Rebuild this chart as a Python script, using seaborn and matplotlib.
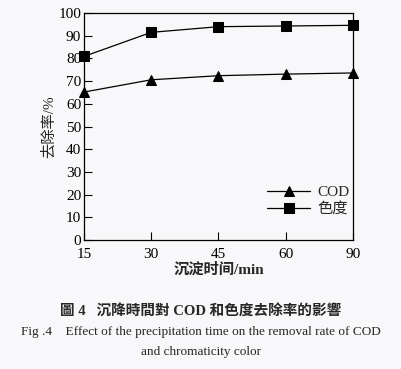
import matplotlib
matplotlib.use("Agg")
import matplotlib.pyplot as plt
import seaborn as sns
import pandas as pd

times = ["15", "30", "45", "60", "90"]
cod = [65.2, 70.6, 72.4, 73.1, 73.6]
chroma = [80.9, 91.5, 94.0, 94.3, 94.6]
series_names = ["COD", "色度"]
yticks = [0, 10, 20, 30, 40, 50, 60, 70, 80, 90, 100]

sns.set_theme(style="ticks")
plt.rcParams['font.family'] = ['Liberation Serif', 'Noto Sans CJK SC']

bg = '#f8f7f9'
fig = plt.figure(figsize=(4.02, 3.69), dpi=100, facecolor=bg)
ax = fig.add_axes([0.209, 0.3496, 0.669, 0.615])
ax.set_facecolor(bg)

df = pd.DataFrame({
    "pos": list(range(len(times))) * 2,
    "value": cod + chroma,
    "series": [series_names[0]] * len(times) + [series_names[1]] * len(times),
})

sns.lineplot(data=df, x="pos", y="value", hue="series", style="series",
             palette=["black", "black"], markers={"COD": "^", "色度": "s"},
             dashes=False, markersize=7, linewidth=0.9, ax=ax,
             markeredgecolor="black", clip_on=False)

ax.set_xlim(0, len(times) - 1)
ax.set_ylim(0, 100)
ax.set_xticks(range(len(times)))
ax.set_xticklabels(times)
ax.set_yticks(yticks)
ax.tick_params(direction='in', length=6, width=0.8, labelsize=11, colors='black')
ax.tick_params(axis='x', pad=6)
ax.tick_params(axis='y', pad=2)
for s in ax.spines.values():
    s.set_linewidth(0.9)
    s.set_color('black')

ax.set_xlabel("沉淀时间/min", fontsize=11, fontweight='bold', labelpad=1)
ax.set_ylabel("去除率/%", fontsize=11, labelpad=2)

leg = ax.legend(loc='lower right', bbox_to_anchor=(1.04, 0.045), frameon=False,
                fontsize=11, handlelength=2.8, handletextpad=0.5, labelspacing=0.2)

fig.text(0.5, 0.154, "圖 4   沉降時間對 COD 和色度去除率的影響", ha='center', va='center',
         fontsize=10.5, fontweight='bold')
fig.text(0.5, 0.100, "Fig .4    Effect of the precipitation time on the removal rate of COD",
         ha='center', va='center', fontsize=9.5)
fig.text(0.5, 0.046, "and chromaticity color", ha='center', va='center', fontsize=9.5)

fig.savefig("out.png", dpi=100, facecolor=bg)
